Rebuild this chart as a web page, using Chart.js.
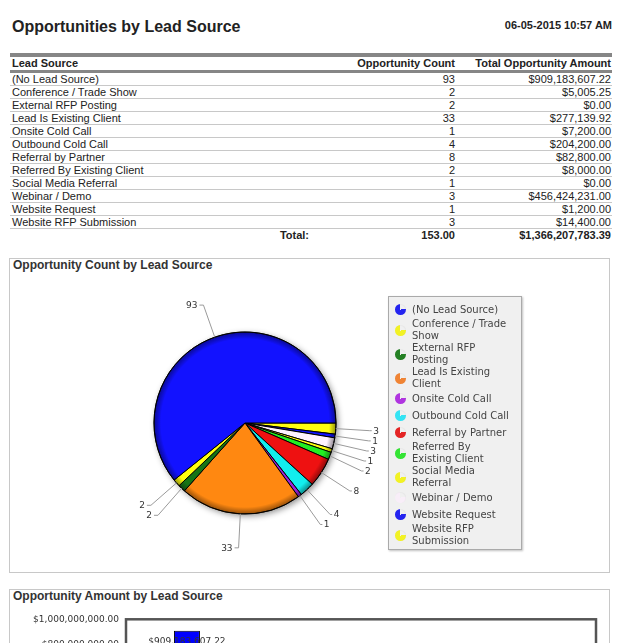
<!DOCTYPE html>
<html><head><meta charset="utf-8">
<script src="https://cdn.jsdelivr.net/npm/chart.js@4.4.1/dist/chart.umd.min.js"></script>
<style>
html,body{margin:0;padding:0;background:#fff;}
body{width:621px;height:643px;overflow:hidden;position:relative;font-family:Arial,"Liberation Sans",sans-serif;color:#222;}
.abs{position:absolute;}
#title{left:12px;top:17px;font-size:16px;font-weight:bold;line-height:20px;white-space:nowrap;}
#date{right:9px;top:19px;font-size:11px;font-weight:bold;line-height:13px;white-space:nowrap;}
#tbl{left:10px;top:53px;width:602px;font-size:11px;}
#tbl .bar{height:4px;background:#868686;}
#tbl .row{position:relative;height:12px;line-height:12px;border-bottom:1px solid #c8c8c8;white-space:nowrap;}
#tbl .hdr{height:13px;line-height:13px;border-bottom:3px solid #868686;font-weight:bold;}
#tbl .tot{border-bottom:none;font-weight:bold;}
#tbl .c1{position:absolute;left:2px;top:0;}
#tbl .c2{position:absolute;right:157px;top:0;}
#tbl .c3{position:absolute;right:1px;top:0;}
#tbl .ct{position:absolute;right:303px;top:0;}
.panel{position:absolute;left:9px;width:601px;border:1px solid #c8c8c8;box-sizing:border-box;}
.ptitle{position:absolute;left:13px;font-size:12px;font-weight:bold;line-height:14px;color:#333;white-space:nowrap;}
#legend{left:388px;top:296px;width:134px;height:254px;box-sizing:border-box;border:1px solid #aaa;background:#f0f0f0;padding-top:4px;box-shadow:1px 1px 2px rgba(0,0,0,0.25);font-family:"DejaVu Sans",Verdana,sans-serif;font-size:10px;color:#444;z-index:5;}
#legend .it{display:flex;align-items:center;min-height:17px;}
#legend .ic{width:11px;height:11px;border-radius:50%;margin-left:6px;margin-right:6px;flex:none;}
#legend .tx{width:100px;line-height:12px;}
</style>
</head><body>
<div id="title" class="abs">Opportunities by Lead Source</div>
<div id="date" class="abs">06-05-2015 10:57 AM</div>
<div id="tbl" class="abs"></div>

<div class="panel" style="top:258px;height:315px;"></div>
<div class="ptitle" style="top:258px;">Opportunity Count by Lead Source</div>
<canvas id="pie" class="abs" width="300" height="300" style="left:95px;top:273px;width:300px;height:300px;"></canvas>
<div id="legend" class="abs"></div>

<div class="panel" style="top:589px;height:200px;"></div>
<div class="ptitle" style="top:589px;">Opportunity Amount by Lead Source</div>
<canvas id="bar" class="abs" width="621" height="170" style="left:0;top:600px;width:621px;height:170px;"></canvas>

<script>
// ---- data ----
const categories = ["(No Lead Source)","Conference / Trade Show","External RFP Posting","Lead Is Existing Client","Onsite Cold Call","Outbound Cold Call","Referral by Partner","Referred By Existing Client","Social Media Referral","Webinar / Demo","Website Request","Website RFP Submission"];
const opportunityCounts = [93,2,2,33,1,4,8,2,1,3,1,3];
const opportunityAmounts = [909183607.22,5005.25,0,277139.92,7200,204200,82800,8000,0,456424231,1200,14400];
const amountAxisMax = 1000000000;
const amountAxisStep = 100000000;
const tableHeaders = ["Lead Source","Opportunity Count","Total Opportunity Amount"];
const totalLabel = "Total:";
// ---- styles ----
const sliceColors = ["#1212ff","#ffff10","#167516","#ff8811","#9a22dd","#12eeee","#ee1111","#22ee22","#ffff10","#fff2ff","#1212ff","#ffff10"];
const legendColors = ["#2424f0","#f2f224","#248024","#f08434","#b034e0","#34e4f4","#e42424","#34e434","#f2f224","#f8eef8","#2424f0","#f2f224"];

const money = v => "$" + Number(v).toLocaleString("en-US",{minimumFractionDigits:2,maximumFractionDigits:2});

// ---- table ----
const tbl = document.getElementById("tbl");
let html = '<div class="bar"></div>';
html += '<div class="row hdr"><span class="c1">'+tableHeaders[0]+'</span><span class="c2">'+tableHeaders[1]+'</span><span class="c3">'+tableHeaders[2]+'</span></div>';
categories.forEach((c,i)=>{
  html += '<div class="row"><span class="c1">'+c+'</span><span class="c2">'+opportunityCounts[i]+'</span><span class="c3">'+money(opportunityAmounts[i])+'</span></div>';
});
const totalCount = opportunityCounts.reduce((a,b)=>a+b,0);
const totalAmount = Math.round(opportunityAmounts.reduce((a,b)=>a+b,0)*100)/100;
html += '<div class="row tot"><span class="ct">'+totalLabel+'</span><span class="c2">'+totalCount.toFixed(2)+'</span><span class="c3">'+money(totalAmount)+'</span></div>';
tbl.innerHTML = html;

// ---- legend ----
const lg = document.getElementById("legend");
lg.innerHTML = categories.map((c,i)=>'<div class="it"><span class="ic" style="background:radial-gradient(circle at 45% 55%,rgba(255,255,255,0) 55%,rgba(0,0,0,0.12) 100%),conic-gradient(transparent 0deg 80deg,'+legendColors[i]+' 80deg 360deg)"></span><span class="tx">'+c+'</span></div>').join("");

// ---- pie ----
const pieOrder = categories.map((c,i)=>i).reverse();
const pieDecor = {
  id:"pieDecor",
  beforeDatasetsDraw(chart){
    const a = chart.getDatasetMeta(0).data[0]; if(!a) return;
    const p = a.getProps(["x","y","outerRadius"],true);
    const ctx = chart.ctx; ctx.save();
    ctx.shadowColor="rgba(0,0,0,0.45)"; ctx.shadowBlur=6; ctx.shadowOffsetX=2; ctx.shadowOffsetY=2;
    ctx.beginPath(); ctx.arc(p.x,p.y,p.outerRadius,0,Math.PI*2); ctx.fillStyle="#fff"; ctx.fill();
    ctx.restore();
  },
  afterDatasetsDraw(chart){
    const meta = chart.getDatasetMeta(0);
    const a = meta.data[0]; if(!a) return;
    const p = a.getProps(["x","y","outerRadius"],true);
    const ctx = chart.ctx; ctx.save();
    const g = ctx.createRadialGradient(p.x,p.y,p.outerRadius-7,p.x,p.y,p.outerRadius);
    g.addColorStop(0,"rgba(0,0,0,0)"); g.addColorStop(1,"rgba(0,0,0,0.42)");
    ctx.beginPath(); ctx.arc(p.x,p.y,p.outerRadius,0,Math.PI*2); ctx.fillStyle=g; ctx.fill();
    ctx.beginPath(); ctx.arc(p.x,p.y,p.outerRadius,0,Math.PI*2); ctx.strokeStyle="rgba(0,0,0,0.85)"; ctx.lineWidth=1; ctx.stroke();
    // labels
    const vals = chart.data.datasets[0].data;
    const items = meta.data.map((arc,i)=>{
      const q = arc.getProps(["x","y","startAngle","endAngle","outerRadius"],true);
      const mid=(q.startAngle+q.endAngle)/2, R=q.outerRadius, L=R+34;
      return {x0:q.x+R*Math.cos(mid), y0:q.y+R*Math.sin(mid), x1:q.x+L*Math.cos(mid), y1:q.y+L*Math.sin(mid), right:Math.cos(mid)>=0, text:String(vals[i])};
    });
    [true,false].forEach(side=>{
      const gr = items.filter(it=>it.right===side).sort((m,n)=>m.y1-n.y1);
      for(let k=1;k<gr.length;k++) if(gr[k].y1 < gr[k-1].y1+10) gr[k].y1 = gr[k-1].y1+10;
    });
    ctx.strokeStyle="#9a9a9a"; ctx.lineWidth=1; ctx.fillStyle="#333";
    ctx.font='9px "DejaVu Sans", Verdana, sans-serif'; ctx.textBaseline="middle";
    items.forEach(it=>{
      const d = it.right?1:-1;
      const h = it.right?2:4, t = it.right?3.5:6;
      ctx.beginPath(); ctx.moveTo(it.x0,it.y0); ctx.lineTo(it.x1,it.y1); ctx.lineTo(it.x1+h*d,it.y1); ctx.stroke();
      ctx.textAlign = it.right?"left":"right";
      ctx.fillText(it.text, it.x1+t*d, it.y1+0.5);
    });
    ctx.restore();
  }
};
new Chart(document.getElementById("pie"),{
  type:"pie",
  data:{labels:pieOrder.map(i=>categories[i]), datasets:[{data:pieOrder.map(i=>opportunityCounts[i]), backgroundColor:pieOrder.map(i=>sliceColors[i]), borderColor:"#000", borderWidth:1}]},
  options:{responsive:false, animation:false, rotation:90, radius:91, layout:{padding:0},
    plugins:{legend:{display:false}, tooltip:{enabled:false}}},
  plugins:[pieDecor]
});

// ---- bar ----
const frame = {
  id:"frame",
  afterDatasetsDraw(chart){
    const a = chart.chartArea, ctx = chart.ctx; ctx.save();
    ctx.strokeStyle="#555"; ctx.lineWidth=2.5; ctx.strokeRect(a.left,a.top,a.right-a.left,a.bottom-a.top);
    ctx.fillStyle="#333"; ctx.font='9px "DejaVu Sans", Verdana, sans-serif'; ctx.textAlign="center"; ctx.textBaseline="middle";
    chart.data.datasets.forEach((ds,di)=>{
      const el = chart.getDatasetMeta(di).data[0];
      ctx.fillText(money(ds.data[0]), el.x, el.y+10.5);
    });
    ctx.restore();
  }
};
new Chart(document.getElementById("bar"),{
  type:"bar",
  data:{labels:[""], datasets:categories.map((c,i)=>({label:c, data:[opportunityAmounts[i]], backgroundColor:sliceColors[i]==="#1212ff"?"#0000ff":sliceColors[i], borderColor:"#000", borderWidth:1, categoryPercentage:0.808, barPercentage:0.822}))},
  options:{responsive:false, animation:false,
    layout:{padding:{top:19.3,right:25,bottom:23.7,left:0}},
    plugins:{legend:{display:false}, tooltip:{enabled:false}},
    scales:{
      x:{display:false},
      y:{min:0, max:amountAxisMax, ticks:{stepSize:amountAxisStep, padding:7, color:"#333", font:{family:'"DejaVu Sans", Verdana, sans-serif', size:9}, callback:v=>money(v)},
         grid:{display:false, drawTicks:false}, border:{display:false}, afterFit(s){s.width=126;}}
    }},
  plugins:[frame]
});
</script>
</body></html>
